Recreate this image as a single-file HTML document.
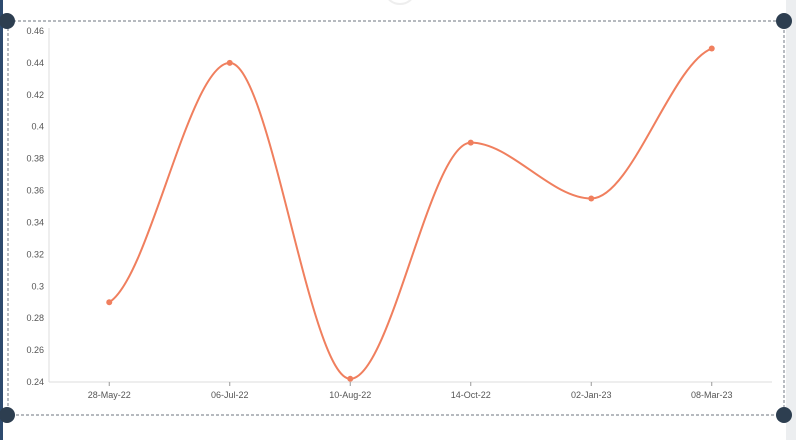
<!DOCTYPE html>
<html><head><meta charset="utf-8"><style>
html,body{margin:0;padding:0;background:#fff;width:796px;height:440px;overflow:hidden}
svg{display:block;font-family:"Liberation Sans",sans-serif}
</style></head><body>
<svg id="c" width="796" height="440">
<rect x="786" y="0" width="10" height="440" fill="#eceef0"/>
<rect x="0" y="0" width="3" height="440" fill="#2d4a6e"/>
<ellipse cx="400" cy="-6" rx="13" ry="10" fill="#fff" stroke="#eee" stroke-width="2"/>
<rect x="8" y="21" width="776" height="394" fill="none" stroke="#8a9099" stroke-width="1.2" stroke-dasharray="3,2"/>
<g id="axes"></g>
<g id="plot"></g>
<g>
<circle cx="7" cy="21" r="8" fill="#2d3e50"/>
<circle cx="784" cy="21" r="8" fill="#2d3e50"/>
<circle cx="7" cy="415" r="8" fill="#2d3e50"/>
<circle cx="784" cy="415" r="8" fill="#2d3e50"/>
</g>
</svg>
<script>
const categories=["28-May-22","06-Jul-22","10-Aug-22","14-Oct-22","02-Jan-23","08-Mar-23"];
const values=[0.29,0.44,0.242,0.39,0.355,0.449];
const yTicks=[0.24,0.26,0.28,0.3,0.32,0.34,0.36,0.38,0.4,0.42,0.44,0.46];
const yTickLabels=["0.24","0.26","0.28","0.3","0.32","0.34","0.36","0.38","0.4","0.42","0.44","0.46"];
const NS="http://www.w3.org/2000/svg";
const X0=49,X1=772,Y0=382,Y1=31,yMin=0.24,yMax=0.46;
const band=(X1-X0)/categories.length;
const xs=i=>X0+band*(i+0.5);
const ys=v=>Y0-(v-yMin)/(yMax-yMin)*(Y0-Y1);
function mk(t,a,p){const e=document.createElementNS(NS,t);for(const k in a)e.setAttribute(k,a[k]);p.appendChild(e);return e;}
const ax=document.getElementById('axes'),pl=document.getElementById('plot');
let e=mk('line',{x1:X0,y1:Y1-3,x2:X0,y2:Y0,stroke:'#ddd'},ax);


e=mk('line',{x1:X0,y1:Y0,x2:X1,y2:Y0,stroke:'#ddd'},ax);


yTicks.forEach((v,i)=>{const t=mk('text',{x:X0-5,y:ys(v)+3,'text-anchor':'end','font-size':9,fill:'#555'},ax);t.textContent=yTickLabels[i];

});
categories.forEach((c,i)=>{const tk=mk('line',{x1:xs(i),y1:Y0,x2:xs(i),y2:Y0+4,stroke:'#999'},ax);


const t=mk('text',{x:xs(i),y:Y0+16,'text-anchor':'middle','font-size':9,fill:'#555'},ax);t.textContent=c;

});
const P=values.map((v,i)=>[xs(i),ys(v)]);const n=P.length;
const s=[];for(let i=0;i<n-1;i++)s.push((P[i+1][1]-P[i][1])/(P[i+1][0]-P[i][0]));
const m=[];for(let i=0;i<n;i++){if(i==0||i==n-1){m.push(0);continue;}
const a=s[i-1],b=s[i];if(a*b<=0){m.push(0);continue;}
const h0=P[i][0]-P[i-1][0],h1=P[i+1][0]-P[i][0];const p=(a*h1+b*h0)/(h0+h1);
m.push((Math.sign(a)+Math.sign(b))*Math.min(Math.abs(a),Math.abs(b),0.5*Math.abs(p)));}
m[0]=(3*s[0]-m[1])/2*0.2;m[n-1]=(3*s[n-2]-m[n-2])/2*0.2;
let d='M'+P[0][0]+','+P[0][1];
for(let i=0;i<n-1;i++){const h=(P[i+1][0]-P[i][0])/3;
d+=' C'+(P[i][0]+h)+','+(P[i][1]+m[i]*h)+' '+(P[i+1][0]-h)+','+(P[i+1][1]-m[i+1]*h)+' '+P[i+1][0]+','+P[i+1][1];}
e=mk('path',{d:d,fill:'none',stroke:'#f07f5e','stroke-width':2},pl);


P.forEach(p=>{const c=mk('circle',{cx:p[0],cy:p[1],r:3,fill:'#f07f5e'},pl);

});
</script>
</body></html>
